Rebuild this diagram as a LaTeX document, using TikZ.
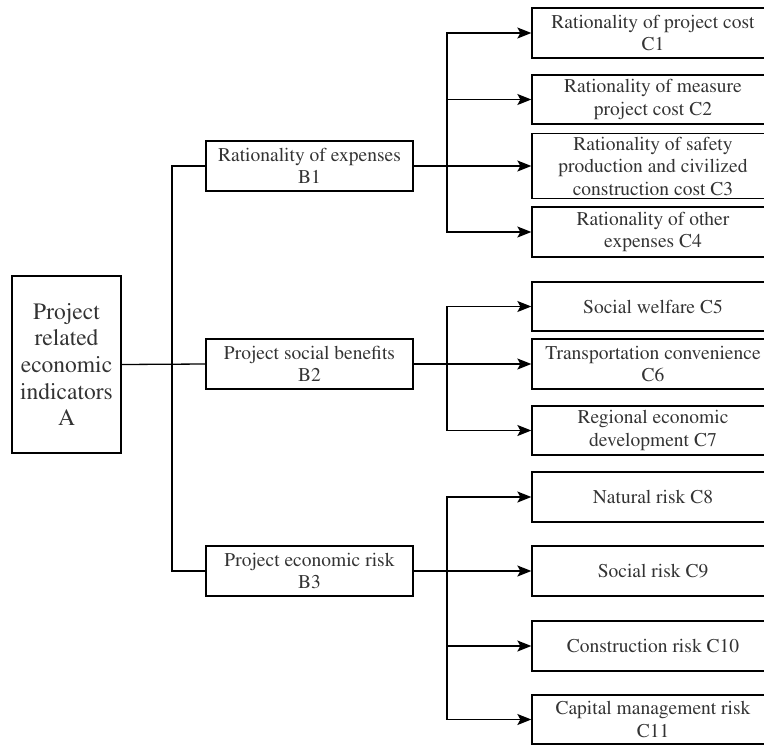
\documentclass[tikz,border=0pt]{standalone}
\usepackage[T1]{fontenc}
\renewcommand{\rmdefault}{ptm}
\usetikzlibrary{arrows.meta}
\begin{document}
\begin{tikzpicture}[x=1pt,y=-1pt,
  box/.style={draw, line width=1.3pt, inner sep=0pt, align=center, anchor=center,
    font=\fontfamily{ptm}\fontsize{19.5}{22.5}\selectfont, text=black!80},
  bbox/.style={box, minimum width=207pt, minimum height=50pt},
  cbox/.style={box, minimum width=242pt},
  abox/.style={box, minimum width=109pt, minimum height=177pt,
    font=\fontfamily{ptm}\fontsize{23.5}{26.7}\selectfont},
  conn/.style={line width=1.3pt},
  arr/.style={conn, -{Stealth[length=14pt,width=11pt,inset=3pt]}}]
\useasboundingbox (0,0) rectangle (764,745);
\node[abox] (A) at (66.5,364.5) {Project\\related\\economic\\indicators\\A};
\node[bbox] (B1) at (309.5,166) {Rationality of expenses\\B1};
\node[bbox] (B2) at (309.5,364) {Project social benefits\\B2};
\node[bbox] (B3) at (309.5,571) {Project economic risk\\B3};
\node[cbox, minimum height=50pt] (C1) at (653,33) {Rationality of project cost\\C1};
\node[cbox, minimum height=49pt] (C2) at (653,99.5) {Rationality of measure\\project cost C2};
\node[cbox, minimum height=65pt] (C3) at (653,166) {Rationality of safety\\production and civilized\\construction cost C3};
\node[cbox, minimum height=50pt] (C4) at (653,232) {Rationality of other\\expenses C4};
\node[cbox, minimum height=49pt] (C5) at (653,306.5) {Social welfare C5};
\node[cbox, minimum height=50pt] (C6) at (653,364) {Transportation convenience\\C6};
\node[cbox, minimum height=49pt] (C7) at (653,430.5) {Regional economic\\development C7};
\node[cbox, minimum height=50pt] (C8) at (653,497) {Natural risk C8};
\node[cbox, minimum height=50pt] (C9) at (653,571) {Social risk C9};
\node[cbox, minimum height=50pt] (C10) at (653,646) {Construction risk C10};
\node[cbox, minimum height=49pt] (C11) at (653,719.5) {Capital management risk\\C11};
\coordinate (T) at (172,364);
\coordinate (J1) at (447,166);
\coordinate (J2) at (447,364);
\coordinate (J3) at (447,571);
\draw[conn] (A.east) -- (B2.west);
\draw[conn] (B1.west) -| (T) |- (B3.west);
\draw[conn] (B1.east) -- (J1);
\draw[conn] (B2.east) -- (J2);
\draw[conn] (B3.east) -- (J3);
\foreach \c in {C1,C2,C3,C4} \draw[arr] (J1) |- (\c.west);
\foreach \c in {C5,C6,C7} \draw[arr] (J2) |- (\c.west);
\foreach \c in {C8,C9,C10,C11} \draw[arr] (J3) |- (\c.west);
\end{tikzpicture}
\end{document}
